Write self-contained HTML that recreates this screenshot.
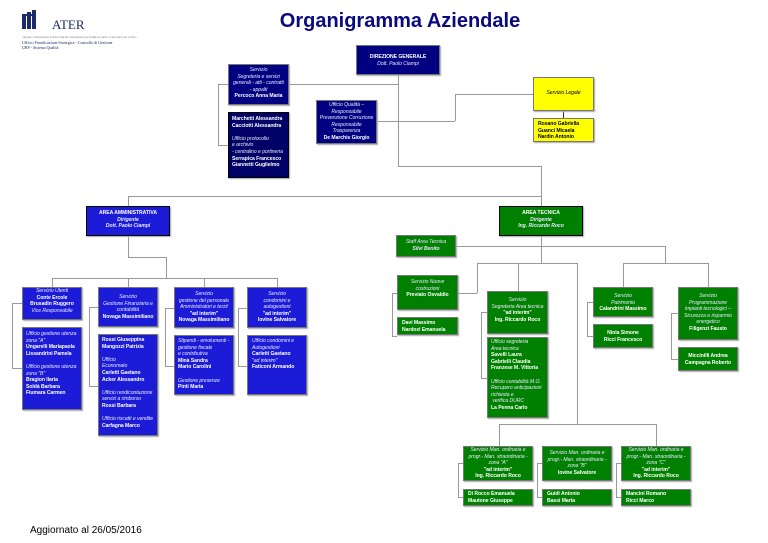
<!DOCTYPE html>
<html><head><meta charset="utf-8"><style>
*{margin:0;padding:0;box-sizing:border-box}
body{width:768px;height:543px;background:#fff;position:relative;overflow:hidden;font-family:"Liberation Sans",sans-serif}
.b{position:absolute;color:#fff;font-size:5.1px;line-height:6.6px;text-align:center;padding:1px 0;border:1px solid #777;box-shadow:1px 1px 1px #aaa;letter-spacing:-0.05px;overflow:visible}
.n{background:#000080}.d{background:#000066;border-color:#000}
.a{background:#1c1cd8}.g{background:#008000}.y{background:#ffff00;color:#000}
.l{text-align:left;padding-left:4px}
i{font-style:italic;color:#e8e8ff}.y i{color:#000}
.b b{font-weight:bold}
.h{position:absolute;background:#999;height:1px}.v{position:absolute;background:#999;width:1px}
</style></head><body>
<div style="position:absolute;left:22px;top:12px;width:126px;height:40px">
<div style="position:absolute;left:0;top:2px;width:4px;height:15px;background:#1a2a6c"></div>
<div style="position:absolute;left:5px;top:0;width:4px;height:17px;background:#1a2a6c"></div>
<div style="position:absolute;left:10px;top:-2px;width:4px;height:19px;background:#1a2a6c"></div>
<div style="position:absolute;left:2px;top:2px;width:10px;height:2px;background:#1a2a6c"></div>
<div style="position:absolute;left:30px;top:5px;font-family:'Liberation Serif',serif;font-size:13px;color:#1a2a6c">ATER</div>
<div style="position:absolute;left:0;top:24px;font-family:'Liberation Serif',serif;font-size:2.5px;color:#555;white-space:nowrap">AZIENDA TERRITORIALE PER L'EDILIZIA RESIDENZIALE PUBBLICA DELLA PROVINCIA DI LATINA</div>
<div style="position:absolute;left:0;top:29px;font-family:'Liberation Serif',serif;font-size:4px;line-height:4.5px;color:#1a2a6c;white-space:nowrap">Ufficio Pianificazione Strategica - Controllo di Gestione<br>URP - Sistema Qualità</div>
</div>
<div style="position:absolute;left:250px;top:10px;width:300px;text-align:center;font-size:20px;font-weight:bold;color:#0a0a80;white-space:nowrap">Organigramma Aziendale</div>

<!-- connectors -->
<div class="v" style="left:398px;top:75px;height:91px"></div>
<div class="h" style="left:218px;top:84px;width:180px"></div>
<div class="v" style="left:218px;top:84px;height:62px"></div>
<div class="h" style="left:218px;top:145px;width:10px"></div>
<div class="h" style="left:377px;top:121px;width:78px"></div>
<div class="v" style="left:455px;top:94px;height:27px"></div>
<div class="h" style="left:455px;top:94px;width:78px"></div>
<div class="v" style="left:563px;top:111px;height:7px;background:#333"></div>
<div class="h" style="left:398px;top:166px;width:143px"></div>
<div class="v" style="left:541px;top:166px;height:40px"></div>
<div class="h" style="left:128px;top:196px;width:413px"></div>
<div class="v" style="left:128px;top:196px;height:10px"></div>
<div class="v" style="left:128px;top:236px;height:21px"></div>
<div class="h" style="left:128px;top:257px;width:38px"></div>
<div class="v" style="left:166px;top:257px;height:21px"></div>
<div class="h" style="left:52px;top:278px;width:226px"></div>
<div class="v" style="left:52px;top:278px;height:9px"></div>
<div class="v" style="left:128px;top:278px;height:9px"></div>
<div class="v" style="left:204px;top:278px;height:9px"></div>
<div class="v" style="left:277px;top:278px;height:9px"></div>
<div class="v" style="left:12px;top:303px;height:66px"></div><div class="h" style="left:12px;top:368px;width:10px"></div><div class="h" style="left:12px;top:303px;width:10px"></div>
<div class="v" style="left:89px;top:307px;height:80px"></div><div class="h" style="left:89px;top:386px;width:9px"></div><div class="h" style="left:89px;top:307px;width:9px"></div>
<div class="v" style="left:165px;top:308px;height:59px"></div><div class="h" style="left:165px;top:366px;width:9px"></div><div class="h" style="left:165px;top:308px;width:9px"></div>
<div class="v" style="left:238px;top:308px;height:59px"></div><div class="h" style="left:238px;top:366px;width:9px"></div><div class="h" style="left:238px;top:308px;width:9px"></div>
<div class="v" style="left:541px;top:236px;height:27px"></div>
<div class="h" style="left:456px;top:246px;width:209px"></div>
<div class="v" style="left:665px;top:246px;height:17px"></div>
<div class="h" style="left:477px;top:263px;width:100px"></div>
<div class="h" style="left:623px;top:263px;width:85px"></div>
<div class="v" style="left:623px;top:263px;height:24px"></div>
<div class="v" style="left:708px;top:263px;height:24px"></div>
<div class="v" style="left:477px;top:263px;height:30px"></div><div class="h" style="left:458px;top:293px;width:19px"></div>
<div class="v" style="left:518px;top:263px;height:28px"></div>
<div class="v" style="left:577px;top:263px;height:161px"></div>
<div class="v" style="left:392px;top:293px;height:43px"></div><div class="h" style="left:392px;top:336px;width:5px"></div><div class="h" style="left:392px;top:293px;width:5px"></div>
<div class="v" style="left:481px;top:312px;height:66px"></div><div class="h" style="left:481px;top:378px;width:6px"></div><div class="h" style="left:481px;top:312px;width:6px"></div>
<div class="v" style="left:587px;top:302px;height:34px"></div><div class="h" style="left:587px;top:336px;width:6px"></div><div class="h" style="left:587px;top:302px;width:6px"></div>
<div class="v" style="left:671px;top:313px;height:46px"></div><div class="h" style="left:671px;top:359px;width:7px"></div><div class="h" style="left:671px;top:313px;width:7px"></div>
<div class="h" style="left:499px;top:424px;width:157px"></div>
<div class="v" style="left:499px;top:424px;height:22px"></div><div class="v" style="left:656px;top:424px;height:22px"></div>
<div class="v" style="left:458px;top:463px;height:35px"></div><div class="h" style="left:458px;top:497px;width:5px"></div><div class="h" style="left:458px;top:463px;width:5px"></div>
<div class="v" style="left:537px;top:463px;height:35px"></div><div class="h" style="left:537px;top:497px;width:5px"></div><div class="h" style="left:537px;top:463px;width:5px"></div>
<div class="v" style="left:616px;top:463px;height:35px"></div><div class="h" style="left:616px;top:497px;width:5px"></div><div class="h" style="left:616px;top:463px;width:5px"></div>

<!-- top -->
<div class="b n" style="left:356px;top:45px;width:84px;height:30px;padding-top:8px"><b>DIREZIONE GENERALE</b><br><i>Dott. Paolo Ciampi</i></div>
<div class="b n" style="left:228px;top:64px;width:61px;height:41px;padding-top:2px"><i>Servizio<br>Segreteria e servizi<br>generali - atti - contratti<br>- appalti</i><br><b>Percoco Anna Maria</b></div>
<div class="b d l" style="left:228px;top:112px;width:61px;height:66px;padding-top:3px;padding-left:3px"><b>Marchetti Alessandra<br>Cacciotti Alessandra</b><br><br><i>Ufficio protocollo<br>e archivio<br>- centralino e portineria</i><br><b>Serrapica Francesco<br>Giannetti Guglielmo</b></div>
<div class="b n" style="left:316px;top:100px;width:61px;height:44px;padding-top:1px"><i>Ufficio Qualità –<br>Responsabile<br>Prevenzione Corruzione<br>Responsabile<br>Trasparenza</i><br><b>De Marchis Giorgio</b></div>
<div class="b y" style="left:533px;top:77px;width:61px;height:34px;padding-top:12px"><i>Servizio Legale</i></div>
<div class="b y l" style="left:533px;top:118px;width:61px;height:24px;padding-top:2px"><b>Rosano Gabriella<br>Guanci Micaela<br>Nardin Antonio</b></div>

<!-- admin -->
<div class="b a" style="left:86px;top:206px;width:84px;height:30px;padding-top:3px;border-color:#000"><b>AREA AMMINISTRATIVA</b><br><b><i>Dirigente<br>Dott. Paolo Ciampi</i></b></div>
<div class="b a" style="left:22px;top:287px;width:60px;height:33px;padding-top:0"><i>Servizio Utenti</i><br><b>Conte Ercole<br>Brusadin Ruggero</b><br><i>Vice Responsabile</i></div>
<div class="b a l" style="left:22px;top:327px;width:60px;height:83px;padding-top:3px;padding-left:3px"><i>Ufficio gestione utenza<br>zona "A"</i><br><b>Ungarelli Mariapaola<br>Lissandrini Pamela</b><br><br><i>Ufficio gestione utenza<br>zona "B"</i><br><b>Bragion Ilaria<br>Soldà Barbara<br>Fiumara Carmen</b></div>
<div class="b a" style="left:98px;top:287px;width:60px;height:40px;padding-top:6px"><i>Servizio<br>Gestione Finanziaria e<br>contabilità</i><br><b>Novaga Massimiliano</b></div>
<div class="b a l" style="left:98px;top:334px;width:60px;height:102px;padding-top:2px;padding-left:3px"><b>Rossi Giuseppina<br>Mangozzi Patrizia</b><br><br><i>Ufficio<br>Economato</i><br><b>Carletti Gaetano<br>Acker Alessandro</b><br><br><i>Ufficio rendicontazione<br>servizi a rimborso</i><br><b>Rossi Barbara</b><br><br><i>Ufficio riscatti e vendite</i><br><b>Carfagna Marco</b></div>
<div class="b a" style="left:174px;top:287px;width:60px;height:41px;padding-top:3px"><i>Servizio<br>gestione del personale<br>Amministratori e terzi/</i><br><b>"ad interim"<br>Novaga Massimiliano</b></div>
<div class="b a l" style="left:174px;top:335px;width:60px;height:60px;padding-top:2px;padding-left:3px"><i>Stipendi - emolumenti -<br>gestione fiscale<br>e contributiva</i><br><b>Minà Sandra<br>Mario Carolini</b><br><br><i>Gestione presenze</i><br><b>Pinti Maria</b></div>
<div class="b a" style="left:247px;top:287px;width:60px;height:41px;padding-top:3px"><i>Servizio<br>condomini e<br>autogestioni</i><br><b>"ad interim"<br>Iovine Salvatore</b></div>
<div class="b a l" style="left:247px;top:335px;width:60px;height:60px;padding-top:2px;padding-left:4px"><i>Ufficio condomini e<br>Autogestioni</i><br><b>Carletti Gaetano</b><br><i>"ad interim"</i><br><b>Faticoni Armando</b></div>

<!-- tech -->
<div class="b g" style="left:499px;top:206px;width:84px;height:30px;padding-top:3px;border-color:#000"><b>AREA TECNICA</b><br><b><i>Dirigente<br>Ing. Riccardo Roco</i></b></div>
<div class="b g" style="left:396px;top:235px;width:60px;height:22px;padding-top:3px"><i>Staff Area Tecnica</i><br><b><i>Silvi Benito</i></b></div>
<div class="b g" style="left:397px;top:275px;width:61px;height:35px;padding-top:3px"><i>Servizio Nuove<br>costruzioni</i><br><b>Previato Osvaldio</b></div>
<div class="b g l" style="left:397px;top:317px;width:61px;height:18px;padding-top:2px"><b>Davi Massimo<br>Nardozi Emanuela</b></div>
<div class="b g" style="left:487px;top:291px;width:61px;height:43px;padding-top:5px"><i>Servizio<br>Segreteria Area tecnica</i><br><b>"ad interim"<br>Ing. Riccardo Roco</b></div>
<div class="b g l" style="left:487px;top:337px;width:61px;height:81px;padding-top:1px;padding-left:3px"><i>Ufficio segreteria<br>Area tecnica</i><br><b>Savelli Laura<br>Gabrielli Claudia<br>Franzese M. Vittoria</b><br><br><i>Ufficio contabilità M.O.<br>Recupero anticipazioni<br>richiesta e<br>&nbsp;verifica DURC</i><br><b>La Penna Carlo</b></div>
<div class="b g" style="left:593px;top:287px;width:60px;height:30px;padding-top:5px"><i>Servizio<br>Patrimonio</i><br><b>Calandrini Massimo</b></div>
<div class="b g" style="left:593px;top:324px;width:60px;height:24px;padding-top:5px"><b>Niola Simone<br>Ricci Francesco</b></div>
<div class="b g" style="left:678px;top:287px;width:60px;height:53px;padding-top:5px"><i>Servizio<br>Programmazione<br>impianti tecnologici –<br>Sicurezza e risparmio<br>energetico</i><br><b>Filigenzi Fausto</b></div>
<div class="b g" style="left:678px;top:347px;width:60px;height:24px;padding-top:5px"><b>Miccinilli Andrea<br>Campagna Roberto</b></div>
<div class="b g" style="left:463px;top:446px;width:70px;height:35px;padding-top:0"><i>Servizio Man. ordinaria e<br>progr.- Man. straordinaria -<br>zona "A"</i><br><b>"ad interim"<br>Ing. Riccardo Roco</b></div>
<div class="b g" style="left:542px;top:446px;width:70px;height:35px;padding-top:3px"><i>Servizio Man. ordinaria e<br>progr.- Man. straordinaria -<br>zona "B"</i><br><b>Iovine Salvatore</b></div>
<div class="b g" style="left:621px;top:446px;width:70px;height:35px;padding-top:0"><i>Servizio Man. ordinaria e<br>progr.- Man. straordinaria -<br>zona "C"</i><br><b>"ad interim"<br>Ing. Riccardo Roco</b></div>
<div class="b g l" style="left:463px;top:489px;width:70px;height:17px;padding-top:1px"><b>Di Rocco Emanuela<br>Mautone Giuseppe</b></div>
<div class="b g l" style="left:542px;top:489px;width:70px;height:17px;padding-top:1px"><b>Guidi Antonio<br>Bassi Marta</b></div>
<div class="b g l" style="left:621px;top:489px;width:70px;height:17px;padding-top:1px"><b>Mancini Romano<br>Ricci Marco</b></div>

<div style="position:absolute;left:30px;top:525px;font-size:10px;color:#000">Aggiornato al 26/05/2016</div>
</body></html>
